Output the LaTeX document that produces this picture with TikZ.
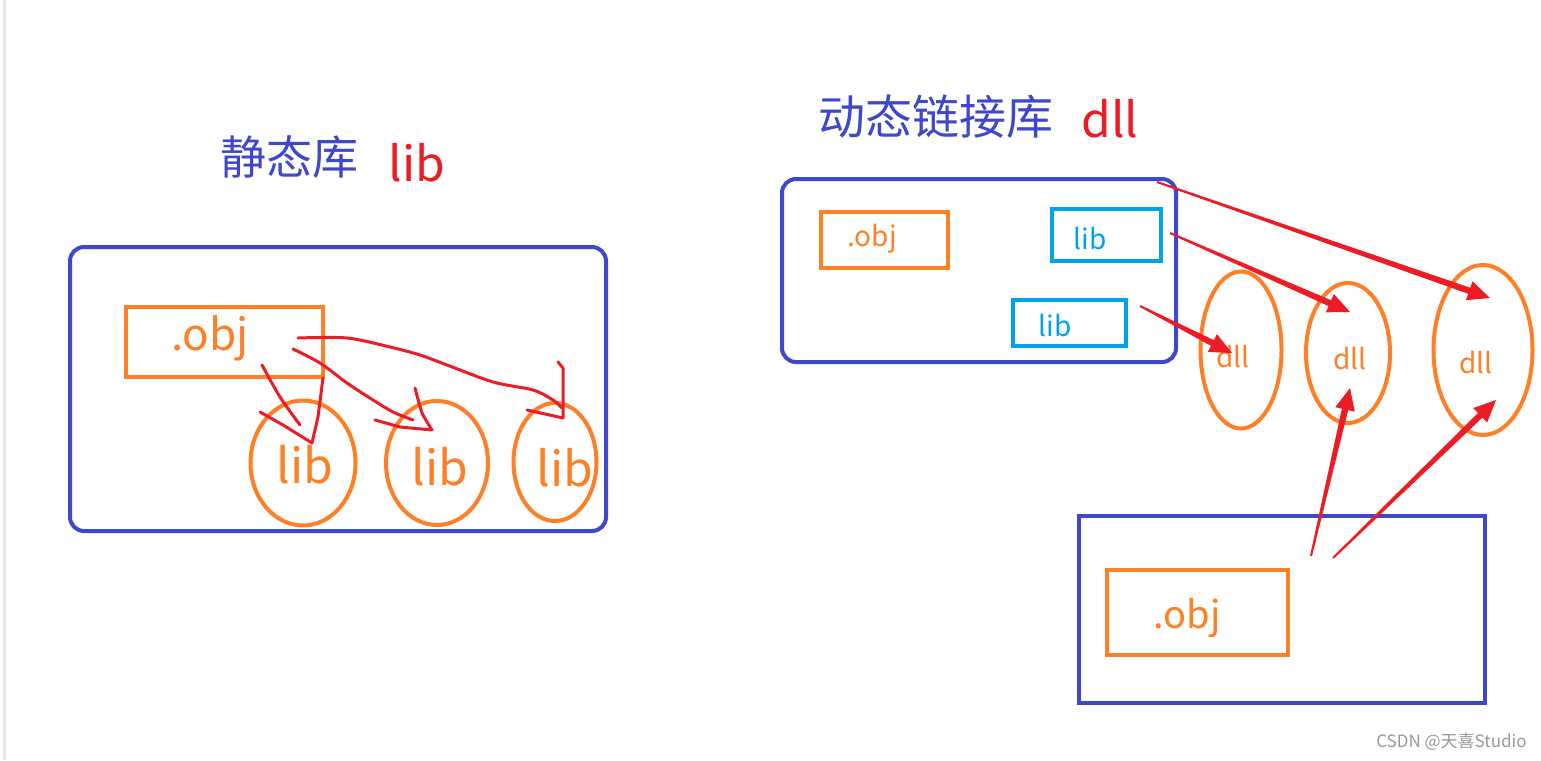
\documentclass[tikz,border=0pt]{standalone}
\usepackage{fontspec}
\setmainfont{Noto Sans CJK SC}
\usetikzlibrary{shapes.geometric,calc}
\definecolor{pblue}{HTML}{3F48CC}
\definecolor{porange}{HTML}{FF7F27}
\definecolor{pred}{HTML}{ED1C24}
\definecolor{pcyan}{HTML}{00A2E8}
\tikzset{
  bigbox/.style={draw=pblue, line width=2pt, rounded corners=7pt},
  sharpbox/.style={draw=pblue, line width=2pt},
  objbox/.style={draw=porange, line width=2pt},
  libbox/.style={draw=pcyan, line width=2pt},
  oval/.style={draw=porange, line width=2pt, ellipse, inner sep=0pt},
  txt/.style={inner sep=0pt, anchor=center},
  scribble/.style={draw=pred, line width=1.5pt, line cap=round, line join=round},
}
\newcommand\taperarrow[2]{%
  \coordinate (tmpC) at ($(#2)!11pt!(#1)$);
  \fill[pred] ($(#1)!0.5pt!90:(#2)$) -- ($(tmpC)!1.6pt!90:(#2)$) -- ($(tmpC)!5pt!90:(#2)$) -- (#2)
     -- ($(tmpC)!5pt!-90:(#2)$) -- ($(tmpC)!1.6pt!-90:(#2)$) -- ($(#1)!0.5pt!-90:(#2)$) -- cycle;}
\begin{document}
\begin{tikzpicture}[x=0.5pt,y=-0.5pt]
\useasboundingbox (0,0) rectangle (1541,760);
\fill[white] (0,0) rectangle (1541,760);
\draw[gray!20, line width=1.5pt] (4,0) -- (4,760);

% ---------- left: static library ----------
\node[txt, text=pblue, font=\fontsize{23}{28}\selectfont] (stitle) at (289,157) {静态库};
\node[txt, text=pred, font=\fontsize{24}{28}\selectfont] (slib) at (417,163) {lib};
\draw[bigbox] (70,247) rectangle (606,531);
\node[objbox, minimum width=98.5pt, minimum height=35pt, inner sep=0pt] (obj1) at (224.5,342) {};
\node[txt, text=porange, font=\fontsize{22}{26}\selectfont] (obj1t) at (210,338) {.obj};
\node[oval, minimum width=52.5pt, minimum height=62.5pt] (e1) at (303,463) {};
\node[oval, minimum width=51pt, minimum height=62pt] (e2) at (437,463) {};
\node[oval, minimum width=41.5pt, minimum height=59pt] (e3) at (555,462) {};
\node[txt, text=porange, font=\fontsize{24}{28}\selectfont] (e1t) at (305,465) {lib};
\node[txt, text=porange, font=\fontsize{24}{28}\selectfont] (e2t) at (440,467) {lib};
\node[txt, text=porange, font=\fontsize{24}{28}\selectfont] (e3t) at (565,468) {lib};

% freehand strokes
\draw[scribble] plot[smooth, tension=0.5] coordinates {(262,365) (280,397) (300,425)};
\draw[scribble] (260,412) -- (283,425) -- (312,443) -- (318,417) -- (323,378);
\draw[scribble] plot[smooth, tension=0.5] coordinates {(293,349) (320,363) (347,383) (373,400) (393,412) (413,420)};
\draw[scribble] plot[smooth, tension=0.3] coordinates {(415,388) (422,413) (432,430)} -- (400,427) -- (375,420);
\draw[scribble] plot[smooth, tension=0.5] coordinates {(298,338) (347,338) (390,347) (420,355) (447,365) (493,382) (533,390) (553,400) (562,408)};
\draw[scribble] (558,362) -- (563,368) -- (563,418) -- (527,410);

% ---------- right: dynamic library ----------
\node[txt, text=pblue, font=\fontsize{23.5}{28}\selectfont] (dtitle) at (936,117) {动态链接库};
\node[txt, text=pred, font=\fontsize{24}{28}\selectfont] (ddll) at (1110,119) {dll};
\draw[bigbox] (782,179) rectangle (1176,362);
\node[objbox, minimum width=63.5pt, minimum height=28pt, inner sep=0pt] (obj2) at (884.5,240) {};
\node[txt, text=porange, font=\fontsize{14}{17}\selectfont] (obj2t) at (872,239) {.obj};
\node[libbox, minimum width=54.5pt, minimum height=26pt, inner sep=0pt] (lib1) at (1106.5,235) {};
\node[txt, text=pcyan, font=\fontsize{14}{17}\selectfont] (lib1t) at (1090,239) {lib};
\node[libbox, minimum width=56.5pt, minimum height=23pt, inner sep=0pt] (lib2) at (1069.5,323) {};
\node[txt, text=pcyan, font=\fontsize{14}{17}\selectfont] (lib2t) at (1055,326) {lib};

\node[oval, minimum width=40.5pt, minimum height=78.5pt] (d1) at (1241,350) {};
\node[oval, minimum width=42pt, minimum height=70pt] (d2) at (1348,353) {};
\node[oval, minimum width=49.5pt, minimum height=85pt] (d3) at (1483,350) {};
\node[txt, text=porange, font=\fontsize{14}{17}\selectfont] (d1t) at (1233,357) {dll};
\node[txt, text=porange, font=\fontsize{14}{17}\selectfont] (d2t) at (1350,359) {dll};
\node[txt, text=porange, font=\fontsize{14}{17}\selectfont] (d3t) at (1476,363) {dll};

\draw[sharpbox] (1079,516) rectangle (1485,703);
\node[objbox, minimum width=90.5pt, minimum height=42.5pt, inner sep=0pt] (obj3) at (1197.5,612.5) {};
\node[txt, text=porange, font=\fontsize{19}{23}\selectfont] (obj3t) at (1187,618) {.obj};

% arrows
\coordinate (a1s) at (1157,182); \coordinate (a1e) at (1490,298);
\coordinate (a2s) at (1170,233); \coordinate (a2e) at (1350,312);
\coordinate (a3s) at (1140,306); \coordinate (a3e) at (1232,353);
\coordinate (a4s) at (1311,556); \coordinate (a4e) at (1350,388);
\coordinate (a5s) at (1333,558); \coordinate (a5e) at (1496,400);
\taperarrow{a1s}{a1e}
\taperarrow{a2s}{a2e}
\taperarrow{a3s}{a3e}
\taperarrow{a4s}{a4e}
\taperarrow{a5s}{a5e}

\node[txt, text=black!40, font=\fontsize{8.5}{10}\selectfont, anchor=east] (wm) at (1527,742) {CSDN @天喜Studio};
\end{tikzpicture}
\end{document}
